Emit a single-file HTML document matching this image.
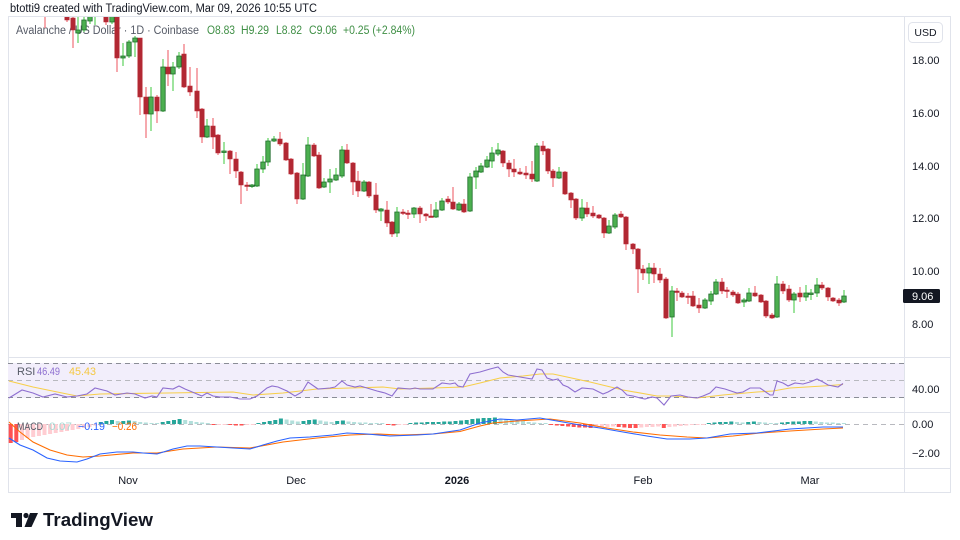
<!DOCTYPE html>
<html><head><meta charset="utf-8"><style>
html,body{margin:0;padding:0;background:#fff;}
svg{display:block;font-family:"Liberation Sans",Arial,sans-serif;}
</style></head><body>
<svg width="960" height="540" viewBox="0 0 960 540" xmlns="http://www.w3.org/2000/svg">
<defs>
<clipPath id="cp"><rect x="8" y="17" width="896" height="340"/></clipPath>
<clipPath id="cr"><rect x="8" y="357" width="896" height="55"/></clipPath>
<clipPath id="cm"><rect x="8" y="412" width="896" height="56"/></clipPath>
</defs>
<rect width="960" height="540" fill="#fff"/>
<text x="10" y="12" font-size="11.5" fill="#131722" textLength="307" lengthAdjust="spacingAndGlyphs">btotti9 created with TradingView.com, Mar 09, 2026 10:55 UTC</text>
<!-- frame -->
<rect x="8.5" y="16.5" width="942" height="476" fill="none" stroke="#e0e3eb"/>
<line x1="904.5" y1="17" x2="904.5" y2="492" stroke="#e0e3eb"/>
<line x1="8" y1="357.5" x2="951" y2="357.5" stroke="#e0e3eb"/>
<line x1="8" y1="412.5" x2="951" y2="412.5" stroke="#e0e3eb"/>
<line x1="8" y1="468.5" x2="951" y2="468.5" stroke="#e0e3eb"/>
<!-- legend -->
<text x="16" y="34" font-size="11.5" fill="#555a66" textLength="183" lengthAdjust="spacingAndGlyphs">Avalanche / US Dollar · 1D · Coinbase</text>
<g font-size="11.5" fill="#3f8f45">
<text x="207" y="34" textLength="28" lengthAdjust="spacingAndGlyphs">O8.83</text>
<text x="241" y="34" textLength="28" lengthAdjust="spacingAndGlyphs">H9.29</text>
<text x="276" y="34" textLength="26" lengthAdjust="spacingAndGlyphs">L8.82</text>
<text x="309" y="34" textLength="28" lengthAdjust="spacingAndGlyphs">C9.06</text>
<text x="343" y="34" textLength="72" lengthAdjust="spacingAndGlyphs">+0.25 (+2.84%)</text>
</g>
<!-- candles -->
<g clip-path="url(#cp)">
<path fill="none" stroke="#ef7079" stroke-width="1.2" d="M45 5V28M67 12V22M73 10V48M106 10V25M117 10V72M140 38V115M146 87V138M157 95V123M168 50V86M184 44V88M190 67V96M197 68V118M202 108V143M213 118V149M218 134V155M230 150V174M236 152V178M241 171V204M247 182V191M280 132V146M286 142V161M291 158V175M297 172V204M314 143V157M319 152V189M347 144V164M353 162V195M358 171V197M369 181V198M376 183V213M387 201V227M392 221V237M403 209V215M408 210V219M420 206V223M426 213V221M431 204V217M448 196V204M453 187V210M464 199V213M503 150V167M509 160V177M514 159V177M520 168V175M526 166V179M532 161V182M543 141V155M548 148V174M553 169V187M565 171V195M571 192V208M576 198V220M587 202V217M593 206V218M599 214V219M604 217V238M621 211V218M626 216V250M633 243V254M638 248V293M643 265V280M654 263V283M660 268V283M666 277V319M677 288V301M682 291V298M688 293V304M693 291V307M699 298V313M722 278V294M727 287V298M733 290V297M738 292V304M755 286V297M761 294V303M766 300V318M772 313V319M783 281V294M789 285V302M800 287V302M822 282V290M828 287V301M833 297V302M839 298V306"/>
<path fill="none" stroke="#5dd35d" stroke-width="1.2" d="M78 17V43M84 15V32M90 10V24M95 5V25M112 10V24M123 43V66M129 40V58M135 36V57M151 87V131M163 59V112M173 62V91M179 52V69M207 119V138M224 142V164M252 184V188M257 164V187M263 156V173M268 138V166M274 136V142M303 163V200M308 137V177M324 178V188M330 169V193M336 168V181M342 146V178M364 180V192M381 208V221M397 207V237M414 207V218M436 202V218M442 198V211M459 202V211M470 173V212M476 167V189M481 163V173M487 156V168M492 147V168M498 143V156M537 143V182M559 167V179M582 199V221M609 220V234M615 213V229M649 263V284M672 286V337M705 298V309M711 291V305M716 279V295M744 298V307M749 288V302M777 276V318M794 292V313M806 285V301M811 289V300M817 278V297M844 290V303"/>
<path fill="#b22833" stroke="#b82b36" stroke-width="0.6" d="M42.8 5h4.4v11h-4.4zM64.8 12h4.4v8h-4.4zM70.8 18h4.4v12h-4.4zM103.8 10h4.4v12h-4.4zM114.8 10h4.4v48h-4.4zM137.8 38h4.4v59h-4.4zM143.8 97h4.4v17h-4.4zM154.8 97h4.4v14h-4.4zM165.8 67h4.4v7h-4.4zM181.8 54h4.4v33h-4.4zM187.8 86h4.4v6h-4.4zM194.8 91h4.4v20h-4.4zM199.8 109h4.4v28h-4.4zM210.8 126h4.4v11h-4.4zM215.8 135h4.4v18h-4.4zM227.8 151h4.4v8h-4.4zM233.8 159h4.4v12h-4.4zM238.8 172h4.4v13h-4.4zM244.8 185h4.4v1.5h-4.4zM277.8 139h4.4v5h-4.4zM283.8 143h4.4v17h-4.4zM288.8 159h4.4v15h-4.4zM294.8 173h4.4v26h-4.4zM311.8 145h4.4v11h-4.4zM316.8 155h4.4v33h-4.4zM344.8 150h4.4v13h-4.4zM350.8 163h4.4v19h-4.4zM355.8 181h4.4v10h-4.4zM366.8 182h4.4v14h-4.4zM373.8 195h4.4v15h-4.4zM384.8 210h4.4v13h-4.4zM389.8 222h4.4v12h-4.4zM400.8 212h4.4v1.5h-4.4zM405.8 213h4.4v1.5h-4.4zM417.8 208h4.4v6h-4.4zM423.8 214h4.4v2h-4.4zM428.8 216h4.4v1.5h-4.4zM445.8 199h4.4v3h-4.4zM450.8 202h4.4v7h-4.4zM461.8 204h4.4v8h-4.4zM500.8 151h4.4v12h-4.4zM506.8 163h4.4v6h-4.4zM511.8 169h4.4v3h-4.4zM517.8 172h4.4v2h-4.4zM523.8 173h4.4v2h-4.4zM529.8 174h4.4v5h-4.4zM540.8 146h4.4v5h-4.4zM545.8 149h4.4v22h-4.4zM550.8 171h4.4v7h-4.4zM562.8 172h4.4v22h-4.4zM568.8 193h4.4v7h-4.4zM573.8 199h4.4v19h-4.4zM584.8 208h4.4v6h-4.4zM590.8 213h4.4v3h-4.4zM596.8 215h4.4v3h-4.4zM601.8 218h4.4v15h-4.4zM618.8 214h4.4v3h-4.4zM623.8 217h4.4v27h-4.4zM630.8 244h4.4v5h-4.4zM635.8 249h4.4v20h-4.4zM640.8 269h4.4v4h-4.4zM651.8 268h4.4v6h-4.4zM657.8 274h4.4v6h-4.4zM663.8 279h4.4v39h-4.4zM674.8 291h4.4v1.5h-4.4zM679.8 293h4.4v4h-4.4zM685.8 296h4.4v1.5h-4.4zM690.8 296h4.4v10h-4.4zM696.8 305h4.4v3h-4.4zM719.8 282h4.4v9h-4.4zM724.8 290h4.4v1.5h-4.4zM730.8 292h4.4v3h-4.4zM735.8 294h4.4v9h-4.4zM752.8 293h4.4v3h-4.4zM758.8 295h4.4v7h-4.4zM763.8 301h4.4v15h-4.4zM769.8 315h4.4v3h-4.4zM780.8 284h4.4v7h-4.4zM786.8 289h4.4v11h-4.4zM797.8 293h4.4v4h-4.4zM819.8 285h4.4v3h-4.4zM825.8 288h4.4v9h-4.4zM830.8 298h4.4v3h-4.4zM836.8 300h4.4v3h-4.4z"/>
<path fill="#4caf50" stroke="#1d6b2a" stroke-width="0.8" d="M75.8 30h4.4v3h-4.4zM81.8 20h4.4v10h-4.4zM87.8 14h4.4v7h-4.4zM92.8 5h4.4v10h-4.4zM109.8 12h4.4v10h-4.4zM120.8 56h4.4v2h-4.4zM126.8 42h4.4v14h-4.4zM132.8 38h4.4v4h-4.4zM148.8 97h4.4v17h-4.4zM160.8 67h4.4v44h-4.4zM170.8 67h4.4v7h-4.4zM176.8 56h4.4v11h-4.4zM204.8 126h4.4v11h-4.4zM221.8 151h4.4v1.5h-4.4zM249.8 185h4.4v1.5h-4.4zM254.8 169h4.4v17h-4.4zM260.8 162h4.4v7h-4.4zM265.8 141h4.4v21h-4.4zM271.8 139h4.4v2h-4.4zM300.8 175h4.4v24h-4.4zM305.8 145h4.4v31h-4.4zM321.8 182h4.4v5h-4.4zM327.8 179h4.4v3h-4.4zM333.8 175h4.4v5h-4.4zM339.8 150h4.4v26h-4.4zM361.8 182h4.4v9h-4.4zM378.8 209h4.4v2h-4.4zM394.8 212h4.4v21h-4.4zM411.8 208h4.4v6h-4.4zM433.8 210h4.4v7h-4.4zM439.8 201h4.4v9h-4.4zM456.8 204h4.4v6h-4.4zM467.8 177h4.4v34h-4.4zM473.8 171h4.4v6h-4.4zM478.8 166h4.4v6h-4.4zM484.8 160h4.4v7h-4.4zM489.8 153h4.4v8h-4.4zM495.8 150h4.4v4h-4.4zM534.8 146h4.4v35h-4.4zM556.8 172h4.4v6h-4.4zM579.8 208h4.4v10h-4.4zM606.8 226h4.4v7h-4.4zM612.8 215h4.4v12h-4.4zM646.8 268h4.4v5h-4.4zM669.8 291h4.4v26h-4.4zM702.8 300h4.4v8h-4.4zM708.8 294h4.4v7h-4.4zM713.8 282h4.4v12h-4.4zM741.8 300h4.4v2h-4.4zM746.8 293h4.4v8h-4.4zM774.8 284h4.4v33h-4.4zM791.8 294h4.4v6h-4.4zM803.8 293h4.4v4h-4.4zM808.8 293h4.4v1.5h-4.4zM814.8 285h4.4v8h-4.4zM841.8 296h4.4v6h-4.4z"/>
</g>
<!-- price axis -->
<rect x="908.5" y="22.5" width="34" height="20" rx="4" fill="#fff" stroke="#e0e3eb"/>
<text x="925.5" y="36" font-size="10.5" fill="#131722" text-anchor="middle">USD</text>
<g font-size="11" fill="#131722">
<text x="912" y="64">18.00</text>
<text x="912" y="117">16.00</text>
<text x="912" y="170">14.00</text>
<text x="912" y="222">12.00</text>
<text x="912" y="275">10.00</text>
<text x="912" y="328">8.00</text>
<text x="912" y="393">40.00</text>
<text x="912" y="428">0.00</text>
<text x="912" y="457">−2.00</text>
</g>
<rect x="903" y="289" width="37" height="14" rx="1.5" fill="#131722"/>
<text x="912" y="300" font-size="11" fill="#fff">9.06</text>
<!-- RSI pane -->
<rect x="8" y="363" width="896" height="35" fill="#f2eefb"/>
<g stroke="#8a8d96" stroke-width="1" stroke-dasharray="5 4" fill="none">
<line x1="8" y1="363.5" x2="904" y2="363.5"/>
<line x1="8" y1="380.5" x2="904" y2="380.5" stroke="#b8b9bf"/>
<line x1="8" y1="397.5" x2="904" y2="397.5"/>
</g>
<g clip-path="url(#cr)" fill="none" stroke-width="1.1">
<polyline stroke="#f7cf4a" points="9,381 33,387 67,394 77,396 100,394 167,393 233,392 253,395 283,393 317,389 350,388 383,387 400,389 433,388 463,387 480,383 500,378 523,376 540,374 553,374 567,377 590,382 623,390 657,396 673,396 697,398 723,395 757,392 773,391 790,388 823,386 843,384.5"/>
<polyline stroke="#8e6fd0" points="9,398 22,390 33,393 43,397 55,394 67,397 77,396 87,394 95,388 107,391 115,395 127,393 135,394 145,398 152,396 157,397 163,388 173,389 179,386 185,389 197,394 202,396 207,393 213,396 220,397 230,397 240,399 250,399 257,396 267,388 272,386 278,387 287,391 295,396 302,392 308,382 318,389 330,388 335,387 342,381 347,385 355,387 360,386 367,388 377,391 385,393 392,396 398,388 410,389 415,388 420,389 433,389 442,383 450,384 455,383 458,386 463,387 470,374 480,372 490,369 498,367 503,372 508,375 520,377 532,379 537,369 542,370 547,378 553,380 558,379 563,385 568,387 575,392 582,388 593,389 603,394 608,392 617,387 622,390 627,395 633,396 640,398 645,399 652,397 657,398 664,405 671,396 680,395 688,397 697,398 703,396 710,393 716,387 725,389 737,393 743,392 750,388 760,388 770,395 773,395 777,381 783,383 788,386 795,383 803,384 810,382 817,379 823,382 828,385 838,387 843,383.5"/>
</g>
<g font-size="11">
<text x="17" y="375" fill="#555a66">RSI</text>
<text x="37" y="375" fill="#8e6fd0" textLength="23" lengthAdjust="spacingAndGlyphs">46.49</text>
<text x="69" y="375" fill="#f5c842" textLength="27" lengthAdjust="spacingAndGlyphs">45.43</text>
</g>
<!-- MACD pane -->
<line x1="8" y1="424.5" x2="904" y2="424.5" stroke="#b8b9bf" stroke-dasharray="5 4"/>
<g clip-path="url(#cm)">
<path fill="#ff5252" d="M8.7 424h4v19h-4zM14.3 424h4v18h-4zM211.4 424h4v1h-4zM228.3 424h4v1h-4zM233.9 424h4v1.5h-4zM239.5 424h4v1.5h-4zM385.9 424h4v1h-4zM391.5 424h4v1.5h-4zM549.2 424h4v1h-4zM554.8 424h4v1.5h-4zM560.4 424h4v2h-4zM566.1 424h4v2.5h-4zM571.7 424h4v3h-4zM577.3 424h4v3.5h-4zM583 424h4v3.5h-4zM588.6 424h4v4h-4zM616.7 424h4v3h-4zM622.4 424h4v3.5h-4zM628 424h4v4h-4zM633.6 424h4v4h-4zM661.8 424h4v4h-4z"/>
<path fill="#ffcdd2" d="M20 424h4v16h-4zM25.6 424h4v14h-4zM31.2 424h4v13h-4zM36.9 424h4v12h-4zM42.5 424h4v11h-4zM48.1 424h4v10h-4zM53.7 424h4v9h-4zM59.4 424h4v8h-4zM65 424h4v7h-4zM70.6 424h4v6h-4zM76.3 424h4v5h-4zM81.9 424h4v4h-4zM87.5 424h4v3h-4zM93.2 424h4v1.5h-4zM217 424h4v1h-4zM222.6 424h4v1h-4zM245.2 424h4v1h-4zM250.8 424h4v1h-4zM397.2 424h4v1h-4zM402.8 424h4v1h-4zM594.2 424h4v3.5h-4zM599.9 424h4v3h-4zM605.5 424h4v3h-4zM611.1 424h4v2.5h-4zM639.3 424h4v3.5h-4zM644.9 424h4v3h-4zM650.5 424h4v3h-4zM656.2 424h4v2.5h-4zM667.4 424h4v3h-4zM673 424h4v2.5h-4zM678.7 424h4v2h-4zM684.3 424h4v1.5h-4zM689.9 424h4v1h-4zM695.6 424h4v1h-4zM701.2 424h4v1h-4z"/>
<path fill="#26a69a" d="M98.8 422h4v2h-4zM104.4 421h4v3h-4zM110 420h4v4h-4zM121.3 421h4v3h-4zM126.9 420.5h4v3.5h-4zM160.7 422h4v2h-4zM166.3 421h4v3h-4zM172 420h4v4h-4zM177.6 419h4v5h-4zM256.4 423h4v1h-4zM262.1 422h4v2h-4zM267.7 421h4v3h-4zM273.3 420h4v4h-4zM278.9 418.5h4v5.5h-4zM301.5 421h4v3h-4zM307.1 420h4v4h-4zM312.7 419.5h4v4.5h-4zM335.2 421h4v3h-4zM340.9 420.5h4v3.5h-4zM408.4 423h4v1h-4zM414.1 422.5h4v1.5h-4zM419.7 422.5h4v1.5h-4zM425.3 422h4v2h-4zM431 422h4v2h-4zM436.6 422h4v2h-4zM442.2 421.5h4v2.5h-4zM447.8 421.5h4v2.5h-4zM453.5 421h4v3h-4zM459.1 420.5h4v3.5h-4zM464.7 420h4v4h-4zM470.4 419h4v5h-4zM476 418.5h4v5.5h-4zM481.6 418h4v6h-4zM487.3 418h4v6h-4zM492.9 417.5h4v6.5h-4zM706.8 423h4v1h-4zM712.5 422.5h4v1.5h-4zM718.1 422h4v2h-4zM723.7 422h4v2h-4zM729.3 421.5h4v2.5h-4zM746.2 422h4v2h-4zM751.9 421.5h4v2.5h-4zM780 422.5h4v1.5h-4zM785.6 422h4v2h-4zM791.3 421.5h4v2.5h-4zM796.9 421.5h4v2.5h-4zM802.5 421h4v3h-4zM808.2 421h4v3h-4z"/>
<path fill="#b2dfdb" d="M115.7 421h4v3h-4zM132.6 421h4v3h-4zM138.2 422h4v2h-4zM143.8 422.5h4v1.5h-4zM149.5 423h4v1h-4zM155.1 423h4v1h-4zM183.2 420h4v4h-4zM188.9 421h4v3h-4zM194.5 422h4v2h-4zM200.1 422.5h4v1.5h-4zM205.8 423h4v1h-4zM284.6 419.5h4v4.5h-4zM290.2 420.5h4v3.5h-4zM295.8 421.5h4v2.5h-4zM318.4 420.5h4v3.5h-4zM324 421.5h4v2.5h-4zM329.6 422h4v2h-4zM346.5 421.5h4v2.5h-4zM352.1 422h4v2h-4zM357.8 422.5h4v1.5h-4zM363.4 422.5h4v1.5h-4zM369 423h4v1h-4zM374.7 423h4v1h-4zM380.3 423h4v1h-4zM498.5 418.5h4v5.5h-4zM504.1 419.5h4v4.5h-4zM509.8 420h4v4h-4zM515.4 420.5h4v3.5h-4zM521 421h4v3h-4zM526.7 422h4v2h-4zM532.3 422.5h4v1.5h-4zM537.9 423h4v1h-4zM543.6 423h4v1h-4zM735 422h4v2h-4zM740.6 422.5h4v1.5h-4zM757.5 422h4v2h-4zM763.1 422.5h4v1.5h-4zM768.8 423h4v1h-4zM774.4 423h4v1h-4zM813.8 421.5h4v2.5h-4zM819.4 422h4v2h-4zM825.1 422.5h4v1.5h-4zM830.7 422.5h4v1.5h-4zM836.3 423h4v1h-4zM841.9 423h4v1h-4z"/>
<g fill="none" stroke-width="1.1">
<polyline stroke="#ff6d00" points="9,422 20,432 33,442 50,450 67,455 83,457 100,456 133,453 157,453 183,449 217,447 250,448 283,442 317,438 350,435 377,434 400,435 433,434 460,431.5 480,426 493,423 517,421 550,419 580,423 607,428 633,432 660,435 687,437 707,438 733,436 760,433 790,431 823,429 843,428"/>
<polyline stroke="#2962ff" points="9,438 20,445 33,450 47,458 60,461 77,462 87,459 100,454 117,452 133,452 143,453 157,454 173,449 187,446 200,446 217,447 233,448 250,449 263,445 277,441 290,438 310,437 333,435 347,433 367,434 390,436 417,435 433,434 460,430 480,423 500,419 517,420 540,418 557,421 580,425 600,428 623,432 647,436 667,439 690,439 707,438 730,434 757,433 790,429 823,427 843,427"/>
</g>
</g>
<g font-size="11">
<text x="17" y="430" fill="#555a66" textLength="26" lengthAdjust="spacingAndGlyphs">MACD</text>
<text x="49" y="430" fill="#a9d9d4" textLength="23" lengthAdjust="spacingAndGlyphs">0.07</text>
<text x="78" y="430" fill="#2962ff" textLength="27" lengthAdjust="spacingAndGlyphs">−0.19</text>
<text x="112" y="430" fill="#ff6d00" textLength="25" lengthAdjust="spacingAndGlyphs">−0.26</text>
</g>
<!-- time axis -->
<g font-size="11" fill="#131722" text-anchor="middle">
<text x="128" y="484">Nov</text>
<text x="296" y="484">Dec</text>
<text x="457" y="484" font-weight="bold">2026</text>
<text x="643" y="484">Feb</text>
<text x="810" y="484">Mar</text>
</g>
<!-- logo -->
<g fill="#131722">
<rect x="11" y="513" width="11" height="5"/>
<rect x="16" y="513" width="6" height="14"/>
<circle cx="26" cy="515.5" r="2.6"/>
<polygon points="30,513 38,513 31.5,527 24.5,527"/>
</g>
<text x="43" y="526" font-size="18" font-weight="bold" fill="#131722" textLength="110" lengthAdjust="spacingAndGlyphs">TradingView</text>
</svg>
</body></html>
